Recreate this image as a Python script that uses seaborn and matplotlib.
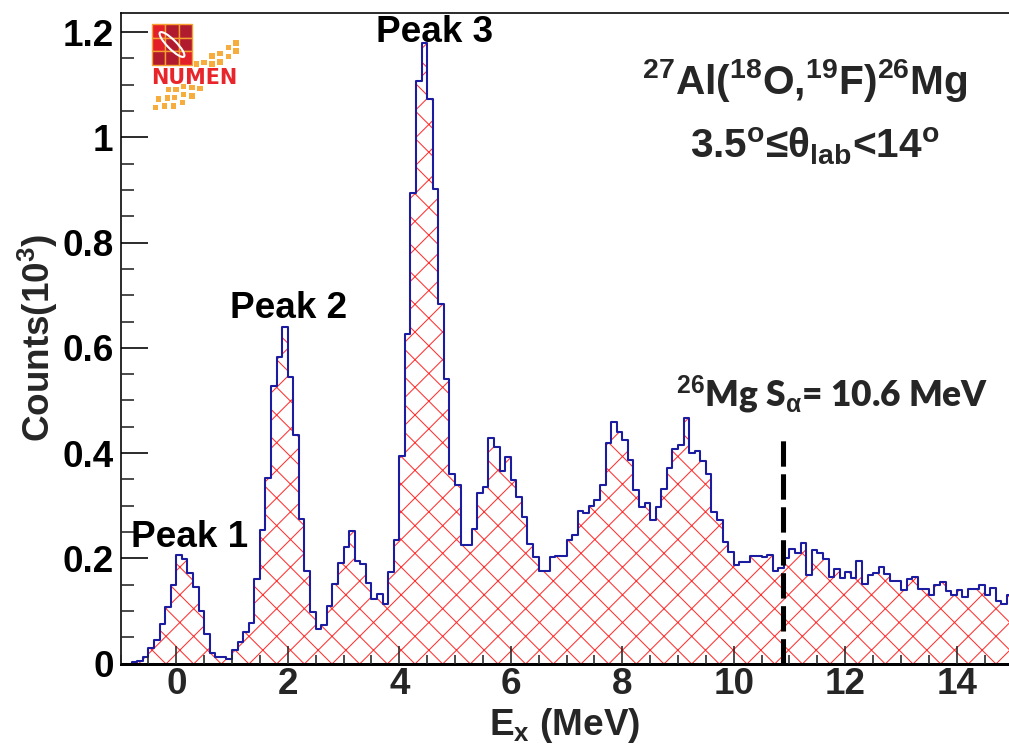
import numpy as np
import pandas as pd
import matplotlib
matplotlib.use("Agg")
import matplotlib.pyplot as plt
from matplotlib.patches import Rectangle, Ellipse
from matplotlib.ticker import MultipleLocator, FuncFormatter
import seaborn as sns

# ---------------------------------------------------------------------------
# Excitation-energy spectrum of 26Mg, 0.1 MeV bins starting at Ex = -1.0 MeV
# (counts in units of 10^3)
# ---------------------------------------------------------------------------
bin_start = -1.0
bin_width = 0.1
counts = [
    0.000, 0.000, 0.002, 0.004, 0.012, 0.030, 0.044, 0.076, 0.108, 0.150,
    0.206, 0.198, 0.172, 0.145, 0.099, 0.057, 0.020, 0.012, 0.012, 0.009,
    0.026, 0.040, 0.060, 0.077, 0.161, 0.254, 0.352, 0.528, 0.583, 0.640,
    0.544, 0.434, 0.275, 0.176, 0.098, 0.066, 0.073, 0.109, 0.152, 0.191,
    0.222, 0.252, 0.194, 0.189, 0.153, 0.122, 0.133, 0.114, 0.173, 0.234,
    0.395, 0.627, 0.895, 1.108, 1.179, 1.073, 0.902, 0.684, 0.540, 0.361,
    0.339, 0.225, 0.225, 0.255, 0.325, 0.336, 0.429, 0.411, 0.365, 0.392,
    0.349, 0.316, 0.279, 0.227, 0.202, 0.176, 0.176, 0.202, 0.204, 0.204,
    0.235, 0.244, 0.289, 0.287, 0.299, 0.310, 0.339, 0.420, 0.459, 0.440,
    0.424, 0.387, 0.329, 0.297, 0.305, 0.273, 0.297, 0.331, 0.371, 0.408,
    0.416, 0.466, 0.400, 0.404, 0.385, 0.360, 0.288, 0.273, 0.231, 0.211,
    0.187, 0.192, 0.192, 0.205, 0.205, 0.203, 0.206, 0.176, 0.182, 0.200,
    0.217, 0.210, 0.229, 0.169, 0.215, 0.210, 0.198, 0.165, 0.179, 0.162,
    0.174, 0.163, 0.195, 0.152, 0.168, 0.172, 0.184, 0.170, 0.156, 0.156,
    0.140, 0.160, 0.164, 0.141, 0.141, 0.131, 0.149, 0.154, 0.137, 0.131,
    0.140, 0.126, 0.142, 0.141, 0.149, 0.131, 0.143, 0.118, 0.113, 0.131,
]

# peak annotations: (label, Ex, counts at baseline)
peak_labels = ["Peak 1", "Peak 2", "Peak 3"]
peak_x = [0.23, 2.01, 4.63]
peak_y = [0.222, 0.656, 1.182]

# alpha-separation marker
sep_label = r"$^{26}$Mg S$_{\alpha}$= 10.6 MeV"
sep_line_x = 10.89
sep_line_top = 0.431

# ---------------------------------------------------------------------------
n_bins = len(counts)
edges = [round(bin_start + bin_width * i, 2) for i in range(n_bins + 1)]
centers = [e + bin_width / 2 for e in edges[:-1]]
df = pd.DataFrame({"Ex": centers, "counts": counts})

W, H, DPI = 1009, 744, 166
sns.set_style("ticks")
plt.rcParams.update({
    "font.family": ["Liberation Sans", "DejaVu Sans"],
    "font.weight": "bold",
    "mathtext.fontset": "custom",
    "mathtext.rm": "Liberation Sans:bold",
    "mathtext.it": "Liberation Sans:bold",
    "mathtext.bf": "Liberation Sans:bold",
    "mathtext.sf": "Liberation Sans:bold",
    "mathtext.default": "rm",
    "hatch.linewidth": 0.45,
    "hatch.color": "#ff3030",
})

fig = plt.figure(figsize=(W / DPI, H / DPI), dpi=DPI)
fig.patch.set_facecolor("white")
ax = fig.add_axes([120.5 / W, 80.5 / H, 892.0 / W, 650.8 / H])
ax.set_facecolor("white")

hatch_red = "#ff3030"
line_blue = "#1c1ca0"

# hatched fill under the spectrum
sns.histplot(data=df, x="Ex", weights="counts", bins=edges, element="step",
             fill=True, color=hatch_red, facecolor="none",
             edgecolor=hatch_red, hatch="xx", linewidth=0, ax=ax)
# blue step outline
sns.histplot(data=df, x="Ex", weights="counts", bins=edges, element="step",
             fill=False, color=line_blue, linewidth=0.9, ax=ax)

# S_alpha threshold marker
ax.plot([sep_line_x, sep_line_x], [0, sep_line_top], color="black",
        linewidth=2.2, linestyle=(0, (5.0, 1.5)), solid_capstyle="butt",
        dash_capstyle="butt", zorder=4)

ax.set_xlim(-1, 15)
ax.set_ylim(0, 1.237)

ax.xaxis.set_major_locator(MultipleLocator(2))
ax.xaxis.set_minor_locator(MultipleLocator(0.5))
ax.yaxis.set_major_locator(MultipleLocator(0.2))
ax.yaxis.set_minor_locator(MultipleLocator(0.05))
fmt = FuncFormatter(lambda v, p: f"{v:g}")
ax.xaxis.set_major_formatter(fmt)
ax.yaxis.set_major_formatter(fmt)

ax.tick_params(axis="y", which="major", direction="in", length=11.7,
               width=0.7, pad=3, labelsize=16, colors="black")
ax.tick_params(axis="y", which="minor", direction="in", length=5.6, width=0.7)
ax.tick_params(axis="x", which="major", direction="in", length=7.8,
               width=0.7, pad=1.5, labelsize=16)
ax.tick_params(axis="x", which="minor", direction="in", length=3.9, width=0.7)
ax.tick_params(top=False, right=False, which="both")
for lab in ax.get_xticklabels() + ax.get_yticklabels():
    lab.set_fontweight("bold")

ax.spines["right"].set_visible(False)
ax.spines["left"].set_linewidth(0.7)
ax.spines["top"].set_linewidth(0.7)
ax.spines["bottom"].set_linewidth(1.3)
for s in ax.spines.values():
    s.set_color("black")
ax.set_axisbelow(False)

ax.set_xlabel(r"E$_{x}$ (MeV)", fontsize=16, fontweight="bold")
ax.xaxis.label.set_verticalalignment("baseline")
ax.xaxis.set_label_coords((565 - 120.5) / 892.0, (663.5 - 735) / 650.8)
ax.set_ylabel(r"Counts(10$^{3}$)", fontsize=16, fontweight="bold")
ax.yaxis.label.set_verticalalignment("center")
ax.yaxis.label.set_rotation_mode("default")
ax.yaxis.set_label_coords((38 - 120.5) / 892.0, 0.5)

for lab, px, py in zip(peak_labels, peak_x, peak_y):
    ax.text(px, py, lab, ha="center", va="baseline", fontsize=16,
            fontweight="bold", color="black")

ax.text(11.28, 1.082, r"$^{27}$Al($^{18}$O,$^{19}$F)$^{26}$Mg",
        ha="center", va="baseline", fontsize=17.6, fontweight="bold")
ax.text(11.46, 0.960, r"3.5$^{o}$≤θ$_{lab}$<14$^{o}$",
        ha="center", va="baseline", fontsize=17.6, fontweight="bold")
ax.text(11.76, 0.488, sep_label, ha="center", va="baseline", fontsize=15.3,
        fontweight="heavy", family=["Lato", "DejaVu Sans"])

# ---------------------------------------------------------------------------
# NUMEN logo in the upper-left corner (drawn in pixel space)
# ---------------------------------------------------------------------------
lax = fig.add_axes([0, 0, 1, 1], zorder=5)
lax.set_xlim(0, W)
lax.set_ylim(H, 0)
lax.axis("off")
lax.patch.set_alpha(0)

grid_x0, grid_y0, cell = 151.7, 24.3, 13.55
bright_cells = {(0, 0), (1, 0), (2, 2)}
for r in range(3):
    for c in range(3):
        col = "#e3202a" if (r, c) in bright_cells else "#b01c2e"
        lax.add_patch(Rectangle((grid_x0 + c * cell, grid_y0 + r * cell),
                                cell, cell, facecolor=col,
                                edgecolor="#f5a030", linewidth=0.6))
lax.add_patch(Ellipse((172.0, 44.5), 34, 9, angle=45, facecolor="none",
                      edgecolor="white", linewidth=0.9))
lax.text(151.5, 83.5, "NUMEN", ha="left", va="baseline", fontsize=9.0,
         color="#e8252b", family="DejaVu Sans", fontweight="bold")

dots = [(236, 43), (236, 51), (228.7, 47.7), (228.7, 56.7), (220, 53.3),
        (220, 62), (212, 56), (212, 64), (204, 62.7), (196.7, 64),
        (200, 88.3), (192, 87.3), (192, 96), (183.3, 86.7), (183.3, 94.7),
        (182.7, 102.7), (176, 89.3), (174.7, 97.7), (173.3, 106),
        (168.3, 89.3), (167.7, 98), (164.3, 106), (158.7, 99), (155.7, 107.3)]
for dx, dy in dots:
    lax.add_patch(Rectangle((dx - 2.6, dy - 2.6), 5.2, 5.2,
                            facecolor="#f7ad3e", edgecolor="none"))

fig.savefig("out.png", dpi=DPI, facecolor="white")
